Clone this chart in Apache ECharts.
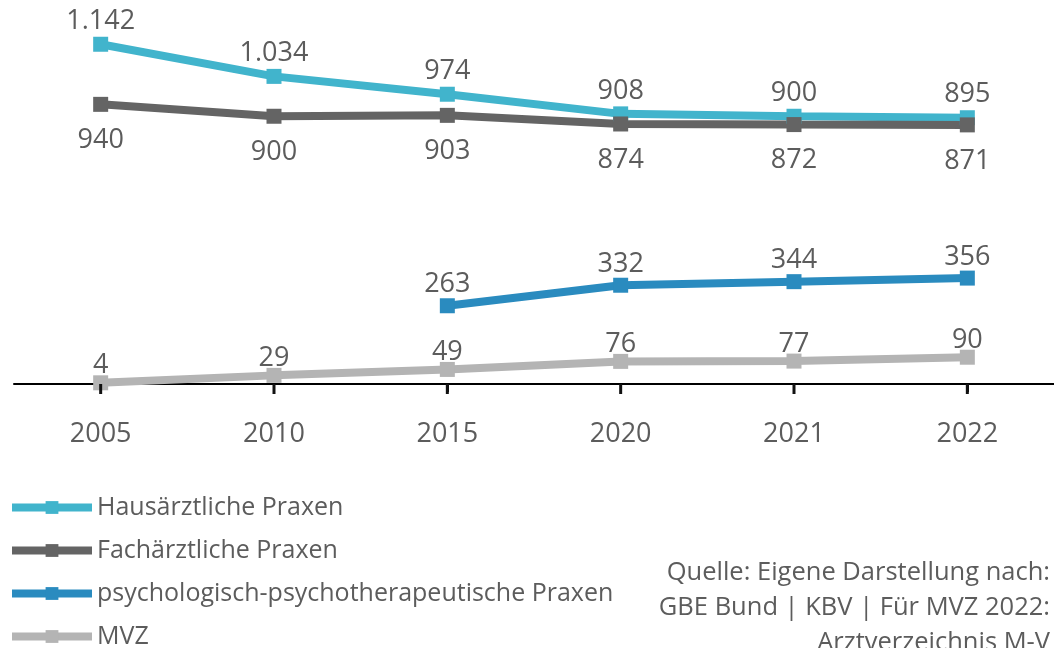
<!DOCTYPE html>
<html>
<head>
<meta charset="utf-8">
<script src="https://cdn.jsdelivr.net/npm/echarts@6/dist/echarts.min.js"></script>
<style>
  html, body { margin: 0; padding: 0; background: #fff; }
  #chart { width: 1054px; height: 648px; }
</style>
</head>
<body>
<div id="chart"></div>
<script>
var years = ['2005', '2010', '2015', '2020', '2021', '2022'];
var hausaerztlich = [1142, 1034, 974, 908, 900, 895];
var fachaerztlich = [940, 900, 903, 874, 872, 871];
var psycho = [null, null, 263, 332, 344, 356];
var mvz = [4, 29, 49, 76, 77, 90];

(function () {
    var myChart = echarts.init(document.getElementById('chart'));
    var textColor = '#5c5c5c';
    var font = '"Open Sans", "Noto Sans", sans-serif';

    // Zahlen im deutschen Format: 1.142
    function deFormat(p) {
        return String(p.value).replace(/\B(?=(\d{3})+(?!\d))/g, '.');
    }

    function makeSeries(name, data, color, labelPos, dist) {
        return {
            name: name,
            type: 'line',
            data: data,
            symbol: 'rect',
            symbolSize: 15,
            color: color,
            lineStyle: { width: 8, color: color },
            itemStyle: { color: color },
            label: {
                show: true,
                position: labelPos,
                distance: dist,
                color: textColor,
                fontSize: 27,
                fontFamily: font,
                formatter: deFormat
            },
            emphasis: { disabled: true },
            animation: false
        };
    }

    var option = {
        textStyle: { fontFamily: font },
        grid: {
            left: 14,
            right: -10,
            top: 27,
            bottom: 264
        },
        legend: {
            orient: 'vertical',
            left: 3,
            top: 490,
            height: 300,
            itemWidth: 80,
            itemHeight: 16,
            itemGap: 18,
            lineStyle: { width: 8 },
            textStyle: { color: textColor, fontSize: 25, fontFamily: font },
            data: ['Hausärztliche Praxen', 'Fachärztliche Praxen',
                'psychologisch-psychotherapeutische Praxen', 'MVZ']
        },
        xAxis: {
            type: 'category',
            data: years,
            axisLine: { show: true, lineStyle: { color: '#000', width: 2 } },
            axisTick: {
                show: true,
                alignWithLabel: true,
                length: 8,
                lineStyle: { color: '#000', width: 2 }
            },
            axisLabel: { color: textColor, fontSize: 27, fontFamily: font, margin: 37 }
        },
        yAxis: {
            type: 'value',
            min: 0,
            max: 1200,
            show: false
        },
        graphic: [{
            type: 'text',
            right: 4,
            top: 555,
            style: {
                text: 'Quelle: Eigene Darstellung nach:\nGBE Bund | KBV | Für MVZ 2022:\nArztverzeichnis M-V',
                fill: textColor,
                font: '25.5px ' + font,
                textAlign: 'right',
                lineHeight: 35
            }
        }],
        series: [
            // Teilstriche unter der Achse
            {
                type: 'scatter',
                data: years.map(function (y) { return [y, 0]; }),
                symbol: 'rect',
                symbolSize: [3, 10],
                symbolOffset: [0, 5],
                itemStyle: { color: '#111', opacity: 1 },
                clip: false,
                silent: true,
                z: 10,
                animation: false
            },
            makeSeries('Hausärztliche Praxen', hausaerztlich, '#41b4cc', 'top', 2),
            makeSeries('Fachärztliche Praxen', fachaerztlich, '#646464', 'bottom', 15),
            makeSeries('psychologisch-psychotherapeutische Praxen', psycho, '#2a8bbf', 'top', 0),
            makeSeries('MVZ', mvz, '#b4b4b4', 'top', -4)
        ]
    };
    myChart.setOption(option);
    window.addEventListener('resize', function () {
        myChart.resize();
    });
})();
</script>
</body>
</html>
